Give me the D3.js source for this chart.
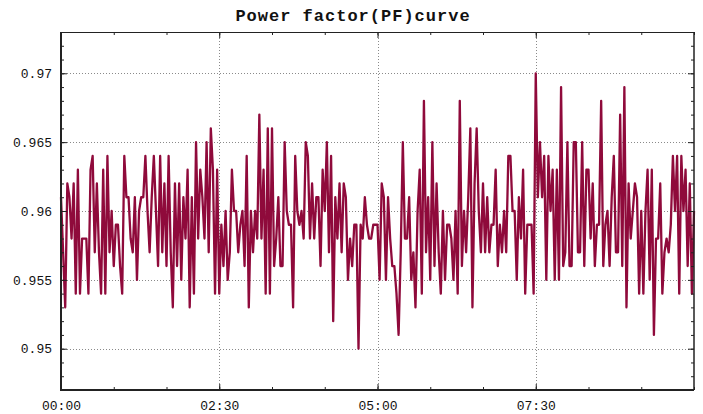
<!DOCTYPE html>
<html>
<head>
<meta charset="utf-8">
<script src="https://cdn.jsdelivr.net/npm/d3@7"></script>
<style>
  body { margin: 0; background: #fff; }
  svg { display: block; }
</style>
</head>
<body>
<svg id="chart" width="703" height="414"></svg>
<script>
// readings every 2 minutes starting at 00:00
const startMinute = 0;
const stepMinutes = 2;
const pfValues = [
  0.961, 0.957, 0.953, 0.962, 0.961, 0.958, 0.962, 0.954, 0.963, 0.954,
  0.958, 0.958, 0.958, 0.954, 0.963, 0.964, 0.957, 0.962, 0.957, 0.954,
  0.963, 0.954, 0.964, 0.957, 0.960, 0.956, 0.959, 0.959, 0.956, 0.954,
  0.964, 0.961, 0.961, 0.958, 0.957, 0.961, 0.955, 0.960, 0.961, 0.961,
  0.964, 0.960, 0.957, 0.961, 0.964, 0.960, 0.956, 0.964, 0.957, 0.962,
  0.956, 0.964, 0.957, 0.953, 0.962, 0.956, 0.962, 0.955, 0.961, 0.958,
  0.963, 0.953, 0.961, 0.954, 0.965, 0.958, 0.963, 0.961, 0.958, 0.965,
  0.957, 0.966, 0.963, 0.954, 0.963, 0.954, 0.959, 0.956, 0.960, 0.955,
  0.957, 0.963, 0.960, 0.960, 0.957, 0.959, 0.960, 0.956, 0.964, 0.953,
  0.960, 0.957, 0.960, 0.958, 0.967, 0.958, 0.963, 0.954, 0.966, 0.954,
  0.966, 0.956, 0.958, 0.961, 0.956, 0.956, 0.965, 0.960, 0.959, 0.959,
  0.953, 0.964, 0.960, 0.959, 0.960, 0.958, 0.965, 0.964, 0.958, 0.962,
  0.958, 0.961, 0.961, 0.956, 0.963, 0.960, 0.965, 0.957, 0.964, 0.952,
  0.961, 0.958, 0.962, 0.957, 0.962, 0.961, 0.955, 0.958, 0.956, 0.959,
  0.959, 0.950, 0.959, 0.958, 0.961, 0.959, 0.958, 0.958, 0.959, 0.959,
  0.959, 0.955, 0.962, 0.961, 0.955, 0.961, 0.958, 0.956, 0.956, 0.954,
  0.951, 0.957, 0.965, 0.958, 0.958, 0.961, 0.955, 0.957, 0.953, 0.960,
  0.963, 0.954, 0.968, 0.957, 0.961, 0.955, 0.965, 0.956, 0.962, 0.957,
  0.954, 0.960, 0.955, 0.959, 0.959, 0.958, 0.955, 0.960, 0.954, 0.968,
  0.956, 0.960, 0.957, 0.961, 0.966, 0.953, 0.962, 0.966, 0.960, 0.957,
  0.962, 0.957, 0.961, 0.957, 0.959, 0.959, 0.963, 0.956, 0.959, 0.957,
  0.960, 0.957, 0.964, 0.964, 0.960, 0.960, 0.955, 0.961, 0.958, 0.963,
  0.954, 0.959, 0.959, 0.959, 0.954, 0.970, 0.961, 0.965, 0.961, 0.964,
  0.955, 0.964, 0.960, 0.963, 0.955, 0.963, 0.955, 0.969, 0.956, 0.957,
  0.965, 0.956, 0.956, 0.965, 0.965, 0.957, 0.957, 0.965, 0.956, 0.963,
  0.963, 0.958, 0.962, 0.956, 0.959, 0.959, 0.968, 0.956, 0.959, 0.960,
  0.956, 0.961, 0.964, 0.957, 0.957, 0.967, 0.956, 0.969, 0.953, 0.962,
  0.958, 0.960, 0.962, 0.961, 0.954, 0.960, 0.954, 0.960, 0.963, 0.955,
  0.963, 0.951, 0.958, 0.958, 0.962, 0.954, 0.957, 0.958, 0.957, 0.959,
  0.964, 0.960, 0.964, 0.954, 0.964, 0.960, 0.963, 0.956, 0.962, 0.954,
  0.960
];

const xDomain = [0, 600];
const xTickMinutes = [0, 150, 300, 450];
const xTickLabels = ["00:00", "02:30", "05:00", "07:30"];
const xMinorStep = 50;

const yDomain = [0.947, 0.973];
const yTickValues = [0.95, 0.955, 0.96, 0.965, 0.97];
const yMinorStep = 0.001;

const title = "Power factor(PF)curve";

const margin = { top: 32, right: 9, bottom: 24, left: 61 };
const width = 703, height = 414;
const innerW = width - margin.left - margin.right;
const innerH = height - margin.top - margin.bottom;

const svg = d3.select("#chart");
const g = svg.append("g").attr("transform", `translate(${margin.left},${margin.top})`);

const x = d3.scaleLinear().domain(xDomain).range([0, innerW]);
const y = d3.scaleLinear().domain(yDomain).range([innerH, 0]);

const data = pfValues.map((v, i) => ({ t: startMinute + i * stepMinutes, v: v }));

// dotted grid
g.append("g")
  .selectAll("line")
  .data(yTickValues)
  .join("line")
  .attr("x1", 0).attr("x2", innerW)
  .attr("y1", d => Math.round(y(d)) + 0.5).attr("y2", d => Math.round(y(d)) + 0.5)
  .attr("stroke", "#8a8a8a")
  .attr("stroke-dasharray", "1,2");
g.append("g")
  .selectAll("line")
  .data(xTickMinutes.slice(1))
  .join("line")
  .attr("y1", 0).attr("y2", innerH)
  .attr("x1", d => Math.round(x(d)) + 0.5).attr("x2", d => Math.round(x(d)) + 0.5)
  .attr("stroke", "#8a8a8a")
  .attr("stroke-dasharray", "1,2");

// the curve
const line = d3.line().x(d => x(d.t)).y(d => y(d.v));
g.append("path")
  .datum(data)
  .attr("fill", "none")
  .attr("stroke", "#8f0a3b")
  .attr("stroke-width", 2.3)
  .attr("stroke-linejoin", "round")
  .attr("d", line);

// axes, ticks pointing inward
const xMinor = d3.range(xDomain[0], xDomain[1] + 1, xMinorStep);
const yMinor = d3.range(0, 27).map(i => yDomain[0] + i * yMinorStep);
const fmtY = d3.format(".3~f");

function styleAxis(sel) {
  sel.selectAll(".domain").remove();
  sel.selectAll("line").attr("stroke", "#222");
  sel.selectAll("text")
    .attr("fill", "#111")
    .style("font-family", "'Liberation Mono', 'DejaVu Sans Mono', monospace")
    .style("font-size", "13px");
}

g.append("g").attr("transform", `translate(0,${innerH})`)
  .call(d3.axisBottom(x).tickValues(xMinor).tickSize(-3).tickFormat(""))
  .call(styleAxis);
g.append("g").attr("transform", `translate(0,${innerH})`)
  .call(d3.axisBottom(x).tickValues(xTickMinutes).tickSize(-6).tickPadding(11)
    .tickFormat((d, i) => xTickLabels[i]))
  .call(styleAxis);
g.append("g")
  .call(d3.axisTop(x).tickValues(xMinor).tickSize(-3).tickFormat(""))
  .call(styleAxis);
g.append("g")
  .call(d3.axisTop(x).tickValues(xTickMinutes).tickSize(-6).tickFormat(""))
  .call(styleAxis);

g.append("g")
  .call(d3.axisLeft(y).tickValues(yMinor).tickSize(-3).tickFormat(""))
  .call(styleAxis);
g.append("g")
  .call(d3.axisLeft(y).tickValues(yTickValues).tickSize(-6).tickPadding(9).tickFormat(fmtY))
  .call(styleAxis);
g.append("g").attr("transform", `translate(${innerW},0)`)
  .call(d3.axisRight(y).tickValues(yMinor).tickSize(-3).tickFormat(""))
  .call(styleAxis);
g.append("g").attr("transform", `translate(${innerW},0)`)
  .call(d3.axisRight(y).tickValues(yTickValues).tickSize(-6).tickFormat(""))
  .call(styleAxis);

// frame
g.append("line").attr("x1", 0).attr("x2", innerW).attr("y1", 0.5).attr("y2", 0.5)
  .attr("stroke", "#222").attr("stroke-width", 1);
g.append("line").attr("x1", innerW).attr("x2", innerW).attr("y1", 0).attr("y2", innerH)
  .attr("stroke", "#222").attr("stroke-width", 1.5);
g.append("line").attr("x1", 0).attr("x2", 0).attr("y1", 0).attr("y2", innerH + 1)
  .attr("stroke", "#222").attr("stroke-width", 2);
g.append("line").attr("x1", 0).attr("x2", innerW).attr("y1", innerH).attr("y2", innerH)
  .attr("stroke", "#222").attr("stroke-width", 2);

// title
svg.append("text")
  .attr("x", 353)
  .attr("y", 21)
  .attr("text-anchor", "middle")
  .style("font-family", "'Liberation Mono', 'DejaVu Sans Mono', monospace")
  .style("font-weight", "bold")
  .style("font-size", "17px")
  .style("letter-spacing", "1px")
  .attr("fill", "#111")
  .text(title);
</script>
</body>
</html>
